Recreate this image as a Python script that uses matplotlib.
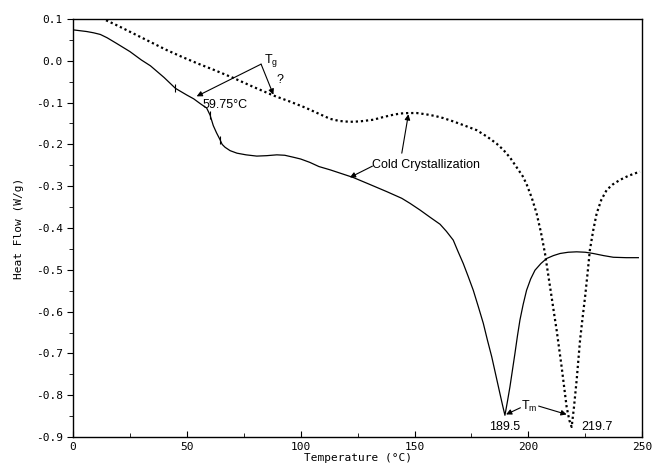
import numpy as np
import matplotlib.pyplot as plt

# solid curve (first scan)
t1 = [0, 3, 6, 9, 12, 15, 19, 25, 30, 34, 40, 45, 50, 53, 56, 58.7, 60.2, 61.6, 63, 64.5, 65.5,
      66.8, 69, 72, 76, 80.7, 85, 89.5, 93, 97, 100, 104, 108, 113, 118, 123, 130, 137.8, 144.4,
      148, 152.4, 157, 161.2, 164, 167, 169, 171.4, 173.5, 175.8, 178, 180.2, 182, 183.9, 185.7,
      187.5, 188.7, 189.7, 190.8, 191.9, 193, 194.1, 195.2, 196.3, 197.7, 199.2, 201, 202.9,
      205.5, 208, 211, 213.9, 217.5, 221.2, 225, 228.5, 233, 237.3, 243, 248.3]
hf1 = [0.074, 0.072, 0.070, 0.067, 0.063, 0.055, 0.042, 0.022, 0.002, -0.012, -0.040, -0.066,
       -0.082, -0.091, -0.103, -0.113, -0.130, -0.155, -0.172, -0.188, -0.200, -0.207, -0.215,
       -0.221, -0.225, -0.228, -0.227, -0.225, -0.226, -0.231, -0.235, -0.243, -0.253, -0.261,
       -0.270, -0.279, -0.295, -0.313, -0.329, -0.341, -0.357, -0.375, -0.391, -0.408, -0.429,
       -0.455, -0.485, -0.515, -0.549, -0.588, -0.628, -0.668, -0.708, -0.752, -0.796, -0.825,
       -0.848, -0.815, -0.780, -0.740, -0.700, -0.658, -0.620, -0.583, -0.549, -0.522, -0.501,
       -0.485, -0.473, -0.466, -0.461, -0.458, -0.457, -0.458, -0.461, -0.466, -0.470, -0.471,
       -0.471]

# dotted curve (second scan)
t2 = [0, 7, 13.3, 20, 27, 34, 41, 48, 55, 62, 70.4, 79, 88, 95, 102, 108.5, 113, 117, 121.6, 126,
      131.9, 136, 140.7, 144, 147.3, 151, 155, 159, 162.6, 167, 172, 177.3, 182, 186, 189, 192,
      195, 197.5, 199.2, 201.5, 203.6, 205.5, 207.3, 208.8, 210.2, 211.3, 212.4, 213.5, 214.6,
      215.7, 216.8, 218, 219, 220, 221.2, 222.7, 223.8, 224.9, 226, 227, 228.5, 230, 232, 234.4,
      237, 240.2, 244, 249]
hf2 = [0.13, 0.115, 0.100, 0.083, 0.064, 0.045, 0.026, 0.009, -0.007, -0.022, -0.041, -0.062,
       -0.083, -0.097, -0.112, -0.128, -0.139, -0.144, -0.146, -0.145, -0.141, -0.135, -0.129,
       -0.126, -0.125, -0.125, -0.128, -0.132, -0.137, -0.145, -0.155, -0.166, -0.182, -0.198,
       -0.213, -0.232, -0.256, -0.276, -0.295, -0.328, -0.365, -0.410, -0.461, -0.515, -0.565,
       -0.605, -0.644, -0.688, -0.732, -0.780, -0.828, -0.860, -0.876, -0.830, -0.764, -0.668,
       -0.615, -0.565, -0.508, -0.453, -0.405, -0.365, -0.333, -0.309, -0.296, -0.285, -0.275,
       -0.265]

# small onset marks on the first scan
marks_t = [44.8, 60.2, 64.6]

xticks = [0, 50, 100, 150, 200, 250]
yticks = [0.1, 0.0, -0.1, -0.2, -0.3, -0.4, -0.5, -0.6, -0.7, -0.8, -0.9]

plt.rcParams['font.family'] = ['Liberation Sans', 'DejaVu Sans']
plt.rcParams['mathtext.fontset'] = 'custom'
plt.rcParams['mathtext.rm'] = 'Liberation Sans'
mono = 'DejaVu Sans Mono'

fig = plt.figure(figsize=(6.52, 4.70), dpi=100)
ax = fig.add_axes([0.112, 0.0702, 0.873, 0.8894])

ax.plot(t1, hf1, color='black', lw=0.9)
ax.plot(t2, hf2, color='black', lw=1.6, linestyle=(0, (1, 1.3)))
ax.plot(marks_t, np.interp(marks_t, t1, hf1), ls='none', marker='|', ms=6, mew=0.8, color='black')

ax.set_xlim(0, 250)
ax.set_ylim(-0.9, 0.1)
ax.set_xticks(xticks)
ax.set_yticks(yticks)
ax.set_xticks(np.arange(25, 250, 50), minor=True)
ax.set_yticks(np.arange(-0.85, 0.1, 0.1), minor=True)
ax.set_xticklabels([str(v) for v in xticks], fontfamily=mono, fontsize=8)
ax.set_yticklabels(['%.1f' % v for v in yticks], fontfamily=mono, fontsize=8)
ax.tick_params(axis='x', direction='in', length=4)
ax.tick_params(axis='x', which='minor', direction='in', length=3)
ax.tick_params(axis='y', direction='out', length=4)
ax.tick_params(axis='y', which='minor', direction='out', length=3)
ax.set_xlabel('Temperature (\u00b0C)', fontfamily=mono, fontsize=8, labelpad=1)
ax.set_ylabel('Heat Flow (W/g)', fontfamily=mono, fontsize=8, labelpad=8)
for s in ax.spines.values():
    s.set_linewidth(1.0)

arr = dict(arrowstyle='-|>', color='black', lw=0.8, mutation_scale=8, shrinkA=0, shrinkB=0)

# Tg annotation
ax.text(84, -0.0, 'T$_\\mathrm{g}$', fontsize=9, ha='left', va='center')
ax.annotate('', xy=(54.3, -0.085), xytext=(82.6, -0.008), arrowprops=arr)
ax.annotate('', xy=(88, -0.081), xytext=(82.6, -0.008), arrowprops=arr)
ax.text(89.5, -0.045, '?', fontsize=9, ha='left', va='center')
ax.text(57, -0.105, '59.75\u00b0C', fontsize=9, ha='left', va='center')

# cold crystallization
ax.text(131.5, -0.249, 'Cold Crystallization', fontsize=9, ha='left', va='center')
ax.annotate('', xy=(121.6, -0.279), xytext=(131.5, -0.252), arrowprops=arr)
ax.annotate('', xy=(147.3, -0.128), xytext=(144.4, -0.221), arrowprops=arr)

# Tm annotation
ax.text(200.5, -0.826, 'T$_\\mathrm{m}$', fontsize=9, ha='center', va='center')
ax.annotate('', xy=(190.2, -0.846), xytext=(196.5, -0.830), arrowprops=arr)
ax.annotate('', xy=(216.8, -0.846), xytext=(204.5, -0.826), arrowprops=arr)
ax.text(189.7, -0.876, '189.5', fontsize=9, ha='center', va='center')
ax.text(230, -0.876, '219.7', fontsize=9, ha='center', va='center')

fig.savefig('out.png', dpi=100)
